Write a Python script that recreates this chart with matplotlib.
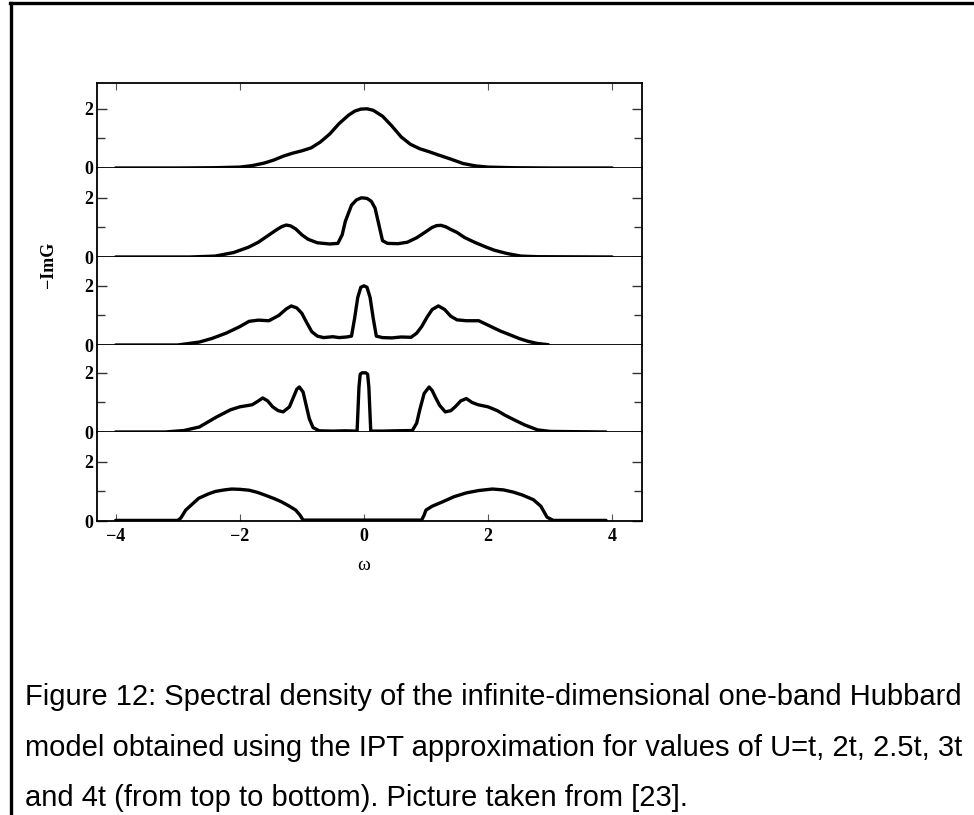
import matplotlib
matplotlib.use("Agg")
import matplotlib.pyplot as plt
from matplotlib.lines import Line2D
from matplotlib.ticker import FixedLocator, FixedFormatter

# ---------------- data ----------------
u_labels = ["U=t", "U=2t", "U=2.5t", "U=3t", "U=4t"]

w1 = [-4.0, -3.0, -2.4, -2.0, -1.8, -1.6, -1.45, -1.3, -1.15, -1.0, -0.85, -0.7, -0.55, -0.4, -0.25,
      -0.15, -0.05, 0.05, 0.15, 0.3, 0.45, 0.6, 0.75, 0.9, 1.05, 1.2, 1.4, 1.6, 1.8, 2.0, 2.4, 3.0, 4.0]
a1 = [0.0, 0.0, 0.01, 0.03, 0.08, 0.17, 0.27, 0.4, 0.5, 0.58, 0.68, 0.88, 1.15, 1.5, 1.78,
      1.92, 1.99, 2.0, 1.95, 1.75, 1.42, 1.05, 0.8, 0.65, 0.55, 0.44, 0.3, 0.15, 0.07, 0.03, 0.01, 0.0, 0.0]

w2 = [-4.0, -2.8, -2.4, -2.1, -1.86, -1.7, -1.54, -1.4, -1.32, -1.25, -1.18, -1.1, -1.0, -0.9, -0.75,
      -0.55, -0.42, -0.35, -0.3, -0.2, -0.12, -0.04, 0.05, 0.12, 0.18, 0.24, 0.3, 0.38, 0.55, 0.7,
      0.85, 0.98, 1.1, 1.17, 1.24, 1.32, 1.4, 1.5, 1.62, 1.78, 1.95, 2.1, 2.3, 2.53, 2.8, 4.0]
a2 = [0.0, 0.0, 0.03, 0.15, 0.33, 0.5, 0.73, 0.93, 1.03, 1.08, 1.05, 0.95, 0.75, 0.6, 0.48,
      0.44, 0.46, 0.75, 1.2, 1.75, 1.93, 2.0, 1.98, 1.88, 1.65, 1.1, 0.55, 0.46, 0.45, 0.5,
      0.65, 0.83, 1.0, 1.06, 1.07, 1.02, 0.93, 0.83, 0.66, 0.5, 0.35, 0.23, 0.12, 0.03, 0.01, 0.0]

w3 = [-4.0, -3.0, -2.65, -2.45, -2.22, -2.0, -1.85, -1.7, -1.53, -1.37, -1.25, -1.17, -1.08, -1.0,
      -0.92, -0.84, -0.75, -0.65, -0.5, -0.4, -0.28, -0.2, -0.15, -0.1, -0.05, 0.0, 0.05, 0.1, 0.15,
      0.2, 0.3, 0.45, 0.6, 0.76, 0.85, 0.93, 1.02, 1.1, 1.2, 1.3, 1.4, 1.5, 1.65, 1.85, 2.05,
      2.2, 2.37, 2.5, 2.65, 2.8, 2.97]
a3 = [0.0, 0.0, 0.1, 0.22, 0.4, 0.62, 0.8, 0.84, 0.82, 1.0, 1.22, 1.32, 1.25, 1.07,
      0.75, 0.45, 0.3, 0.25, 0.28, 0.25, 0.27, 0.3, 0.9, 1.6, 1.95, 2.0, 1.95, 1.6, 0.9,
      0.3, 0.25, 0.24, 0.27, 0.26, 0.4, 0.62, 0.95, 1.2, 1.32, 1.2, 0.97, 0.85, 0.82, 0.82, 0.62,
      0.47, 0.33, 0.22, 0.12, 0.05, 0.01]

w4 = [-4.0, -3.2, -2.9, -2.65, -2.38, -2.15, -2.0, -1.8, -1.7, -1.63, -1.55, -1.47, -1.38, -1.3,
      -1.2, -1.14, -1.08, -1.04, -0.98, -0.93, -0.88, -0.82, -0.72, -0.5, -0.3, -0.11, -0.08, -0.06,
      -0.03, 0.03, 0.06, 0.08, 0.11, 0.3, 0.5, 0.78, 0.85, 0.9, 0.97, 1.05, 1.1, 1.15, 1.22, 1.31,
      1.4, 1.47, 1.56, 1.65, 1.74, 1.84, 2.0, 2.15, 2.27, 2.45, 2.6, 2.8, 3.0, 3.9]
a4 = [0.0, 0.0, 0.05, 0.17, 0.5, 0.75, 0.85, 0.92, 1.05, 1.15, 1.05, 0.85, 0.72, 0.68,
      0.85, 1.15, 1.45, 1.52, 1.35, 0.9, 0.45, 0.15, 0.04, 0.03, 0.04, 0.03, 1.5, 1.95,
      2.0, 2.0, 1.95, 1.5, 0.03, 0.03, 0.04, 0.05, 0.3, 0.75, 1.3, 1.52, 1.4, 1.18, 0.9, 0.68,
      0.72, 0.85, 1.05, 1.13, 1.0, 0.92, 0.85, 0.72, 0.57, 0.38, 0.23, 0.07, 0.02, 0.0]

w5 = [-4.0, -3.0, -2.95, -2.87, -2.75, -2.66, -2.5, -2.39, -2.25, -2.13, -2.0, -1.85, -1.72, -1.6,
      -1.45, -1.33, -1.2, -1.1, -1.03, -0.98, 0.93, 0.97, 1.0, 1.1, 1.27, 1.45, 1.65, 1.85, 2.07,
      2.25, 2.4, 2.55, 2.73, 2.85, 2.95, 3.05, 3.9]
a5 = [0.02, 0.02, 0.1, 0.37, 0.6, 0.77, 0.92, 1.0, 1.05, 1.08, 1.07, 1.04, 0.97, 0.88,
      0.76, 0.65, 0.5, 0.37, 0.2, 0.03, 0.03, 0.2, 0.37, 0.5, 0.65, 0.82, 0.95, 1.03, 1.08,
      1.05, 0.98, 0.88, 0.72, 0.5, 0.13, 0.02, 0.02]

omegas = [w1, w2, w3, w4, w5]
spectra = [a1, a2, a3, a4, a5]

x_ticks = [-4, -2, 0, 2, 4]
x_tick_labels = ["\u22124", "\u22122", "0", "2", "4"]
y_ticks = [0, 2]
y_tick_labels = ["0", "2"]
y_minor = [1]

caption_lines = [
    "Figure 12: Spectral density of the infinite-dimensional one-band Hubbard",
    "model obtained using the IPT approximation for values of U=t, 2t, 2.5t, 3t",
    "and 4t (from top to bottom). Picture taken from [23].",
]

# ---------------- layout ----------------
W, H = 974, 815
fig = plt.figure(figsize=(W / 100, H / 100), dpi=100)
fig.patch.set_facecolor("white")

serif_bold = dict(family="Liberation Serif", weight="bold")
left_px, right_px = 97, 642
panel_px = [(83, 168), (168, 257), (257, 345), (345, 432), (432, 521)]
px_per_unit = 29.6

for i, (top, bot) in enumerate(panel_px):
    ax = fig.add_axes([left_px / W, 1 - bot / H, (right_px - left_px) / W, (bot - top) / H])
    ax.plot(omegas[i], spectra[i], color="black", lw=2.4, solid_joinstyle="round",
            solid_capstyle="round")
    ax.set_xlim(-4.3, 4.48)
    ax.set_ylim(0, (bot - top) / px_per_unit)
    for s in ax.spines.values():
        s.set_linewidth(1.3)
        s.set_color("black")
    if i > 0:
        ax.spines["top"].set_visible(False)
    ax.yaxis.set_major_locator(FixedLocator(y_ticks))
    ax.yaxis.set_major_formatter(FixedFormatter(y_tick_labels))
    ax.yaxis.set_minor_locator(FixedLocator(y_minor))
    ax.tick_params(axis="y", which="both", direction="in", left=True, right=True,
                   labelleft=True, width=1.0, color="#333333", pad=3)
    ax.tick_params(axis="y", which="major", length=7)
    ax.tick_params(axis="y", which="minor", length=6)
    for lab in ax.get_yticklabels():
        lab.set_fontfamily("Liberation Serif")
        lab.set_fontweight("bold")
        lab.set_fontsize(13)
    ax.xaxis.set_major_locator(FixedLocator(x_ticks))
    if i == 0:
        ax.tick_params(axis="x", direction="in", top=True, bottom=False, labelbottom=False,
                       length=5, width=0.8, color="#555555")
    elif i == 4:
        ax.xaxis.set_major_formatter(FixedFormatter(x_tick_labels))
        ax.tick_params(axis="x", direction="in", top=False, bottom=True, labelbottom=True,
                       length=5, width=0.8, color="#555555", pad=5)
        for lab in ax.get_xticklabels():
            lab.set_fontfamily("Liberation Serif")
            lab.set_fontweight("bold")
            lab.set_fontsize(13)
    else:
        ax.tick_params(axis="x", top=False, bottom=False, labelbottom=False)

fig.text(48 / W, 1 - 265 / H, "\u2212ImG", rotation=90, ha="center", va="center",
         fontsize=13, **serif_bold)
fig.text(364 / W, 1 - 565 / H, "\u03c9", ha="center", va="center", fontsize=14,
         family="Liberation Serif")

# outer border (left and top)
fig.add_artist(Line2D([11 / W, 11 / W], [0, 1 - 3 / H], transform=fig.transFigure,
                      color="black", lw=2.4))
fig.add_artist(Line2D([10 / W, 1.0], [1 - 3 / H, 1 - 3 / H], transform=fig.transFigure,
                      color="black", lw=2.4))

baselines = [705, 756, 806]
for line, b in zip(caption_lines, baselines):
    fig.text(25 / W, 1 - b / H, line, ha="left", va="baseline", fontsize=21,
             family="Liberation Sans", color="black")

fig.savefig("out.png", dpi=100, facecolor="white")
